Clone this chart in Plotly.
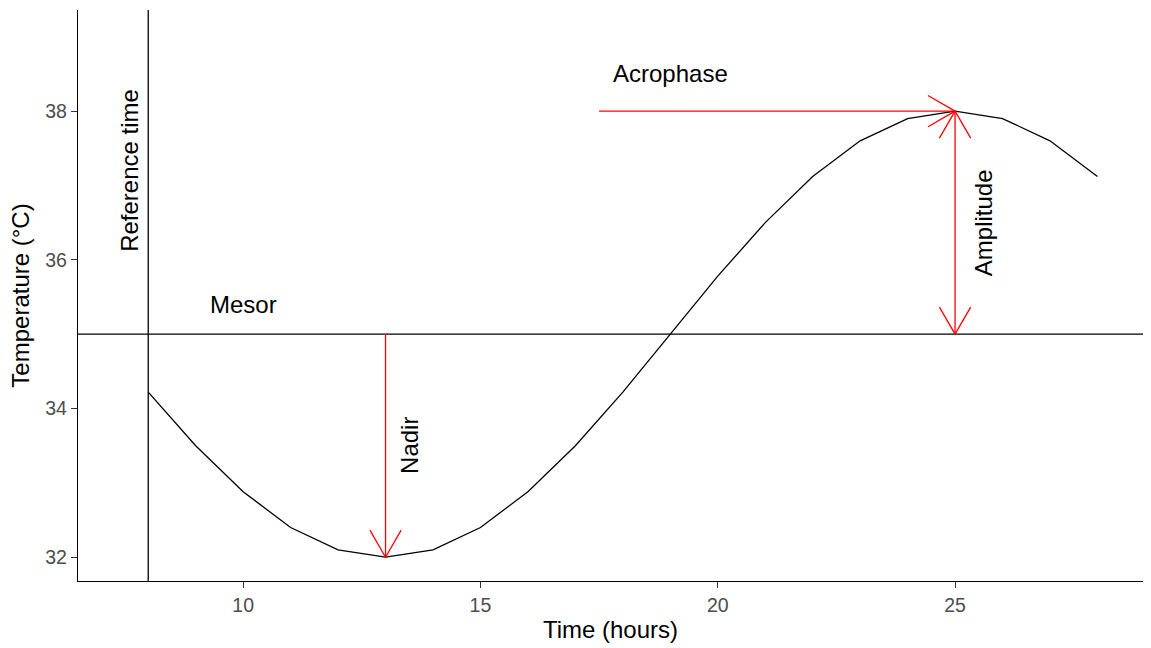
import math
import plotly.graph_objects as go

# ---- data ----
hours = [8, 9, 10, 11, 12, 13, 14, 15, 16, 17, 18, 19, 20, 21, 22, 23, 24, 25, 26, 27, 28]
temperature = [34.22, 33.50, 32.88, 32.40, 32.10, 32.00, 32.10, 32.40, 32.88, 33.50, 34.22,
               35.00, 35.78, 36.50, 37.12, 37.60, 37.90, 38.00, 37.90, 37.60, 37.12]

x_ticks = [10, 15, 20, 25]
y_ticks = [32, 34, 36, 38]

mesor = 35.0
reference_time = 8

# arrows: (name, x_start, y_start, x_end, y_end, double_headed)
arrow_names = ["Nadir", "Acrophase", "Amplitude"]
arrow_x0 = [13, 17.5, 25]
arrow_y0 = [35, 38, 35]
arrow_x1 = [13, 25, 25]
arrow_y1 = [32, 38, 38]
arrow_both = [False, False, True]

# labels
label_text = ["Reference time", "Mesor", "Nadir", "Acrophase", "Amplitude"]
label_x = [7.6, 10.0, 13.5, 19.0, 25.6]
label_y = [37.2, 35.4, 33.5, 38.5, 36.5]
label_angle = [-90, 0, -90, 0, -90]

# ---- layout constants ----
W, H = 1151, 648
ML, MR, MT, MB = 78, 8, 10, 67
XR = [6.52, 28.96]
YR = [31.68, 39.36]
px_x = (W - ML - MR) / (XR[1] - XR[0])
px_y = (H - MT - MB) / (YR[1] - YR[0])

FONT = "Liberation Sans, Arial, sans-serif"
RED = "#FF0000"

fig = go.Figure()
fig.add_trace(go.Scatter(x=hours, y=temperature, mode="lines",
                         line=dict(color="black", width=1.3), showlegend=False,
                         hoverinfo="skip"))

shapes = [
    dict(type="line", xref="x", yref="paper", x0=reference_time, x1=reference_time, y0=0, y1=1,
         line=dict(color="black", width=1.3)),
    dict(type="line", xref="paper", yref="y", x0=0, x1=1, y0=mesor, y1=mesor,
         line=dict(color="black", width=1.3)),
]

annotations = []
HEAD_LEN = 33
HEAD_ANG = math.radians(30)


def add_head(tip_x, tip_y, from_x, from_y):
    # screen-space direction of the arrow (pointing to tip)
    dx = (tip_x - from_x) * px_x
    dy = -(tip_y - from_y) * px_y
    n = math.hypot(dx, dy)
    bx, by = -dx / n, -dy / n
    for s in (1, -1):
        c, si = math.cos(s * HEAD_ANG), math.sin(s * HEAD_ANG)
        ox = HEAD_LEN * (bx * c - by * si)
        oy = HEAD_LEN * (bx * si + by * c)
        annotations.append(dict(x=tip_x, y=tip_y, xref="x", yref="y", ax=ox, ay=oy,
                                axref="pixel", ayref="pixel", text="", showarrow=True,
                                arrowhead=0, arrowwidth=1.3, arrowcolor=RED,
                                standoff=0, startstandoff=0))


for x0, y0, x1, y1, both in zip(arrow_x0, arrow_y0, arrow_x1, arrow_y1, arrow_both):
    shapes.append(dict(type="line", xref="x", yref="y", x0=x0, y0=y0, x1=x1, y1=y1,
                       line=dict(color=RED, width=1.3)))
    add_head(x1, y1, x0, y0)
    if both:
        add_head(x0, y0, x1, y1)

for t, x, y, a in zip(label_text, label_x, label_y, label_angle):
    annotations.append(dict(x=x, y=y, xref="x", yref="y", text=t, showarrow=False,
                            textangle=a, font=dict(family=FONT, size=24, color="black"),
                            xanchor="center", yanchor="middle"))

fig.update_layout(
    width=W, height=H,
    margin=dict(l=ML, r=MR, t=MT, b=MB),
    paper_bgcolor="white", plot_bgcolor="white",
    font=dict(family=FONT),
    shapes=shapes, annotations=annotations,
    xaxis=dict(range=XR, tickvals=x_ticks, showgrid=False, zeroline=False,
               showline=True, linecolor="black", linewidth=1.3,
               ticks="outside", ticklen=6, tickcolor="#333333", tickwidth=1.3,
               tickfont=dict(family=FONT, size=19.5, color="#4D4D4D"),
               title=dict(text="Time (hours)", font=dict(family=FONT, size=24, color="black"),
                          standoff=6)),
    yaxis=dict(range=YR, tickvals=y_ticks, showgrid=False, zeroline=False,
               showline=True, linecolor="black", linewidth=1.3,
               ticks="outside", ticklen=6, tickcolor="#333333", tickwidth=1.3,
               tickfont=dict(family=FONT, size=19.5, color="#4D4D4D"),
               title=dict(text="Temperature (°C)", font=dict(family=FONT, size=24, color="black"),
                          standoff=8)),
)

fig.write_html("out.html")
